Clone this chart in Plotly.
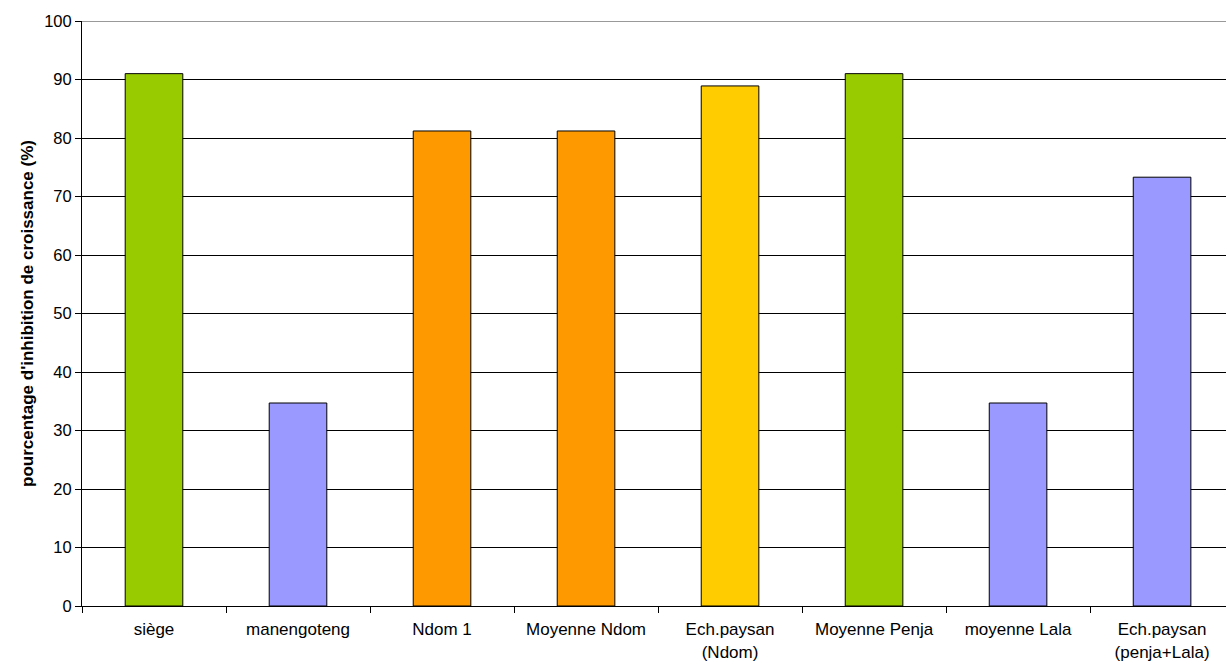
import plotly.graph_objects as go

categories = ["siège", "manengoteng", "Ndom 1", "Moyenne Ndom", "Ech.paysan<br>(Ndom)",
              "Moyenne Penja", "moyenne Lala", "Ech.paysan<br>(penja+Lala)"]
values = [91.0, 34.7, 81.2, 81.2, 88.9, 91.0, 34.7, 73.3]
colors = ["#99CC00", "#9999FF", "#FF9900", "#FF9900", "#FFCC00", "#99CC00", "#9999FF", "#9999FF"]
y_ticks = list(range(0, 101, 10))

fig = go.Figure(go.Bar(
    x=categories, y=values, width=0.4,
    marker=dict(color=colors, line=dict(color="black", width=1)),
))

font = "Liberation Sans, Arial, sans-serif"
fig.update_layout(
    width=1226, height=664,
    margin=dict(l=82, r=0, t=21, b=58),
    plot_bgcolor="white", paper_bgcolor="white",
    showlegend=False,
    font=dict(family=font, size=17, color="black"),
    xaxis=dict(
        type="category", range=[-0.5, 7.444],
        showline=True, linecolor="black", linewidth=1,
        ticks="outside", ticklen=6, tickcolor="black", tickson="boundaries",
        showgrid=False, tickfont=dict(size=17), ticklabelstandoff=8,
    ),
    yaxis=dict(
        range=[0, 100], tickvals=y_ticks,
        showline=True, linecolor="black", linewidth=1,
        ticks="outside", ticklen=6, tickcolor="black",
        showgrid=True, gridcolor="black", gridwidth=1,
        tickfont=dict(size=16.5), zeroline=False,
        title=dict(text="<b>pourcentage d'inhibition de croissance (%)</b>",
                   font=dict(size=17), standoff=6),
    ),
    shapes=[dict(type="line", xref="paper", yref="y", x0=0, x1=1, y0=100, y1=100,
                 line=dict(color="#999999", width=2))],
)

fig.write_html("out.html")
